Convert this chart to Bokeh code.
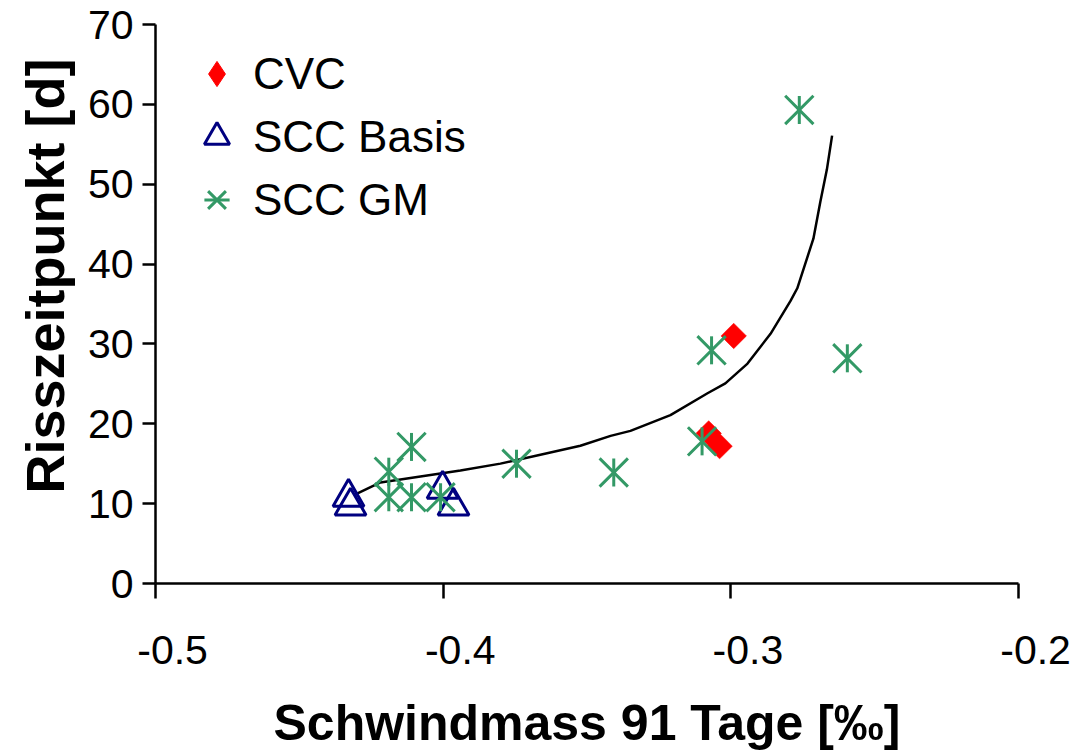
import numpy as np
from bokeh.plotting import figure
from bokeh.models import Range1d, FixedTicker, Legend, LegendItem, Title
from bokeh.embed import file_html
from bokeh.resources import INLINE

# ---- data ----
cvc_x = [-0.2990, -0.3077, -0.3039]
cvc_y = [31.0, 18.8, 17.2]

basis_x = [-0.4329, -0.4322, -0.4002, -0.3964]
basis_y = [10.8, 9.7, 11.8, 9.7]

gm_x = [-0.2762, -0.2595, -0.3067, -0.3100, -0.3407, -0.3745,
        -0.4110, -0.4189, -0.4189, -0.4110, -0.4009]
gm_y = [59.3, 28.2, 29.2, 17.8, 13.9, 15.0,
        17.1, 14.0, 10.8, 10.8, 10.8]

fit_x = [-0.4305, -0.4218, -0.4079, -0.3940, -0.3801, -0.3662, -0.3523,
         -0.3418, -0.3349, -0.3210, -0.3081, -0.3019, -0.2942, -0.2862,
         -0.2793, -0.2769, -0.2713, -0.2689, -0.2666, -0.2648]
fit_y = [11.17, 12.66, 13.40, 14.14, 15.01, 16.13, 17.25,
         18.49, 19.11, 21.09, 23.82, 25.06, 27.54, 31.27,
         35.36, 36.97, 43.18, 47.77, 51.86, 56.08]

x_ticks = [-0.5, -0.4, -0.3, -0.2]
x_tick_labels = ["-0.5", "-0.4", "-0.3", "-0.2"]
y_ticks = [0, 10, 20, 30, 40, 50, 60, 70]

FONT = "Liberation Sans"
RED = "#FF0000"
NAVY = "#000080"
GREEN = "#339966"
PAD = "\u00a0\u00a0\u00a0"  # labels in the reference sit a little right of their ticks

p = figure(width=1090, height=753, output_backend="svg", toolbar_location=None,
           x_range=Range1d(-0.5, -0.2), y_range=Range1d(0, 70),
           min_border_left=155, min_border_right=72, min_border_top=24,
           min_border_bottom=168)
p.outline_line_color = None
p.xgrid.visible = False
p.ygrid.visible = False
p.background_fill_color = "white"
p.border_fill_color = "white"

# axes
for ax in (p.xaxis[0], p.yaxis[0]):
    ax.axis_line_width = 2.5
    ax.major_tick_line_width = 2.5
    ax.minor_tick_line_color = None
    ax.major_tick_in = 0
    ax.major_label_text_font = FONT
    ax.major_label_text_font_size = "41px"
    ax.major_label_text_color = "black"
    ax.axis_line_color = "black"
    ax.major_tick_line_color = "black"

p.xaxis.ticker = FixedTicker(ticks=x_ticks)
p.yaxis.ticker = FixedTicker(ticks=y_ticks)
p.xaxis.major_label_overrides = {t: PAD + s for t, s in zip(x_ticks, x_tick_labels)}
p.xaxis.major_tick_out = 15
p.yaxis.major_tick_out = 13
p.xaxis.major_label_standoff = 28
p.yaxis.major_label_standoff = 9

p.xaxis.axis_label = "Schwindmass 91 Tage [‰]"
p.xaxis.axis_label_text_font = FONT
p.xaxis.axis_label_text_font_size = "50px"
p.xaxis.axis_label_text_font_style = "bold"
p.xaxis.axis_label_text_color = "black"
p.xaxis.axis_label_standoff = 19

ytitle = Title(text="Risszeitpunkt [d]", align="left", offset=90,
               text_font=FONT, text_font_size="54px", text_font_style="bold",
               text_color="black", standoff=20)
p.add_layout(ytitle, "left")

# fitted curve
p.line(fit_x, fit_y, line_color="black", line_width=2.5)

# markers
r_cvc = p.scatter(cvc_x, cvc_y, marker="square", angle=np.pi / 4, size=18,
                  fill_color=RED, line_color=RED, line_width=0.5)
r_cvc_leg = p.scatter(cvc_x, cvc_y, marker="diamond", size=25,
                      fill_color=RED, line_color=RED, visible=False)
r_basis = p.scatter(basis_x, basis_y, marker="triangle", size=31,
                    fill_alpha=0, line_color=NAVY, line_width=3)
r_gm1 = p.scatter(gm_x, gm_y, marker="x", size=40,
                  line_color=GREEN, line_width=3)
r_gm2 = p.scatter(gm_x, gm_y, marker="dash", angle=np.pi / 2, size=28,
                  line_color=GREEN, line_width=3)

legend = Legend(items=[
    LegendItem(label="CVC", renderers=[r_cvc_leg]),
    LegendItem(label="SCC Basis", renderers=[r_basis]),
    LegendItem(label="SCC GM", renderers=[r_gm1, r_gm2]),
], location=(30, 352))
legend.label_text_font = FONT
legend.label_text_font_size = "44px"
legend.label_text_color = "black"
legend.glyph_width = 63
legend.glyph_height = 63
legend.label_height = 63
legend.label_standoff = 5
legend.spacing = 0
legend.padding = 0
legend.margin = 0
legend.border_line_color = None
legend.background_fill_alpha = 0
legend.click_policy = "none"
p.add_layout(legend, "center")

open("out.html", "w").write(file_html(p, INLINE))
